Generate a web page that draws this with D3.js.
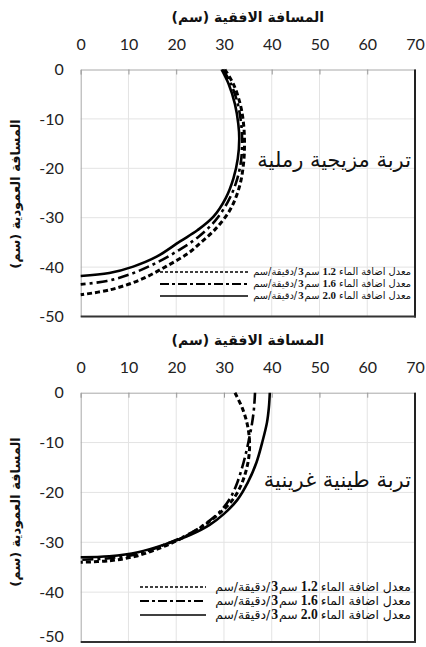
<!DOCTYPE html>
<html><head><meta charset="utf-8">
<script src="https://cdn.jsdelivr.net/npm/d3@7"></script>
<style>
body{margin:0;background:#fff;}
svg{display:block;}
</style></head>
<body>
<svg id="chart" width="426" height="647"></svg>
<script>
// ---- data ----
const xTicks = [0, 10, 20, 30, 40, 50, 60, 70];
const yTicks = [0, -10, -20, -30, -40, -50];
const rates = ["1.2", "1.6", "2.0"];
const xTitle = "المسافة الافقية (سم)";
const yTitle = "المسافة العمودية (سم)";
const soilNames = ["تربة مزيجية رملية", "تربة طينية غرينية"];
const legendWords = ["معدل اضافة الماء", "سم", "3", "/دقيقة/سم"];

// sandy loam (top panel): [horizontal cm, vertical cm]
const sandy12 = [[30.2,0],[32.0,-3],[33.4,-7],[34.1,-11],[34.3,-15],[34.1,-19],[33.3,-23.5],[31.4,-28.2],[28.5,-32],[25.2,-35],[22.5,-37.2],[18.0,-39.8],[12.4,-42.6],[6.1,-44.6],[0,-45.6]];
const sandy16 = [[29.8,0],[31.5,-3],[32.9,-7],[33.6,-11],[33.8,-15],[33.5,-19],[32.5,-23],[30.7,-27],[28.0,-30.8],[24.5,-34],[20.5,-36.6],[15.5,-39.3],[10.5,-41.4],[5.5,-42.8],[0,-43.5]];
const sandy20 = [[29.5,0],[31.0,-3],[32.3,-7],[33.0,-11],[33.2,-14],[32.9,-18],[32.0,-22],[30.4,-26],[27.8,-29.8],[24.5,-32.5],[20.8,-34.8],[15.9,-37.9],[11.0,-39.9],[6.0,-41.2],[0,-41.8]];

// silty clay (bottom panel)
const clay12 = [[32.3,0],[33.8,-3],[34.8,-6],[35.3,-9],[35.3,-12],[34.8,-15],[33.6,-18.5],[31.8,-21.5],[29.3,-24],[26.0,-26.5],[22.0,-28.8],[17.0,-31.0],[11.5,-32.8],[6.0,-33.7],[0,-34.0]];
const clay16 = [[36.5,0],[36.3,-3],[35.9,-6],[35.1,-10],[34.1,-14],[32.8,-18],[31.4,-21],[29.4,-23.6],[26.5,-26],[22.5,-28.4],[17.5,-30.5],[12.0,-32.3],[6.0,-33.2],[0,-33.5]];
const clay20 = [[39.6,0],[39.4,-3],[39.0,-6],[38.0,-10],[36.8,-14],[35.0,-18],[32.8,-21.5],[30.0,-24.3],[27.0,-26.5],[23.0,-28.5],[18.0,-30.3],[12.0,-32.0],[6.0,-32.8],[0,-33.0]];

const panelSeries = [[sandy12, sandy16, sandy20], [clay12, clay16, clay20]];

// ---- styles ----
const lineStyles = [
  {dash: "5,3", width: 3},
  {dash: "11,4,3,4", width: 2.6},
  {dash: null, width: 2.6}
];
const legendStyles = [
  {dash: "3,2", width: 1.6},
  {dash: "9,3,3,3", width: 1.8},
  {dash: null, width: 1.6}
];

const panels = [
  {top: 69.5, bottom: 316.5, titleY: 22, tickY: 50, labelY: 167, legendY: [272, 284, 296], legendWidth: 158, sampleX0: 160, sampleX1: 248, yTitleY: 194, lastLabelShift: 0},
  {top: 392.7, bottom: 642, titleY: 345, tickY: 373, labelY: 487, legendY: [587, 601, 615], legendWidth: 198, sampleX0: 140, sampleX1: 206, yTitleY: 512, lastLabelShift: -6}
];
const left = 80.7, right = 415, legendRight = 411;

const svg = d3.select("#chart");
const numFont = "Lato, 'Open Sans', sans-serif";
const arFont = "'DejaVu Sans', sans-serif";
const serifFont = "'Liberation Serif', serif";

function legendRow(g, r, ly, size) {
  const row = g.append("g");
  // pieces laid out right-to-left
  const pieces = [
    {t: legendWords[0], num: false, gap: 3},
    {t: r, num: true, gap: 3},
    {t: legendWords[1], num: false, gap: 1},
    {t: legendWords[2], num: true, gap: 1},
    {t: legendWords[3], num: false, gap: 0}
  ];
  let xr = legendRight;
  pieces.forEach(pc => {
    const t = row.append("text").attr("y", ly + size * 0.35).attr("fill", "#111");
    if (pc.num) {
      t.attr("x", xr).attr("text-anchor", "end")
        .attr("font-family", serifFont).attr("font-weight", "bold").attr("font-size", size * 1.1)
        .text(pc.t);
    } else {
      t.attr("x", xr).attr("text-anchor", "start").attr("direction", "rtl").attr("unicode-bidi", "embed")
        .attr("font-family", arFont).attr("font-size", size)
        .text(pc.t);
    }
    xr -= t.node().getComputedTextLength() + pc.gap;
  });
  return {row, width: legendRight - xr};
}

panels.forEach((p, pi) => {
  const x = d3.scaleLinear().domain([0, 70]).range([left, right]);
  const y = d3.scaleLinear().domain([-50, 0]).range([p.bottom, p.top]);
  const g = svg.append("g");

  // grid
  g.append("g").selectAll("line").data(xTicks.slice(1, -1)).join("line")
    .attr("x1", d => x(d)).attr("x2", d => x(d))
    .attr("y1", p.top).attr("y2", p.bottom)
    .attr("stroke", "#e3e3e3").attr("stroke-width", 1);
  g.append("g").selectAll("line").data(yTicks.slice(1, -1)).join("line")
    .attr("x1", left).attr("x2", right)
    .attr("y1", d => y(d)).attr("y2", d => y(d))
    .attr("stroke", "#e3e3e3").attr("stroke-width", 1);

  // top axis with inward ticks
  const xAxis = d3.axisTop(x).tickValues(xTicks).tickSize(-5).tickPadding(0).tickFormat(d3.format("d"));
  const xa = g.append("g").attr("transform", `translate(0,${p.top})`).call(xAxis);
  xa.select(".domain").attr("stroke", "#a8a8a8");
  xa.selectAll(".tick line").attr("stroke", "#999");
  xa.selectAll(".tick text").attr("y", p.tickY - p.top).attr("dy", 0)
    .attr("font-family", numFont).attr("font-size", 16).attr("fill", "#222");

  // left axis
  const yAxis = d3.axisLeft(y).tickValues(yTicks).tickSize(0).tickPadding(17).tickFormat(d3.format("d"));
  const ya = g.append("g").attr("transform", `translate(${left},0)`).call(yAxis);
  ya.select(".domain").attr("stroke", "#a8a8a8");
  ya.selectAll(".tick text").attr("font-family", numFont).attr("font-size", 16).attr("fill", "#222")
    .attr("y", d => d === -50 ? p.lastLabelShift : 0)
    .text(d => d === 0 ? "0" : "-" + Math.abs(d));

  // right and bottom dark border
  g.append("line").attr("x1", right).attr("x2", right).attr("y1", p.top).attr("y2", p.bottom + 1)
    .attr("stroke", "#222").attr("stroke-width", 2);
  g.append("line").attr("x1", left).attr("x2", right + 1).attr("y1", p.bottom).attr("y2", p.bottom)
    .attr("stroke", "#333").attr("stroke-width", 2);

  // titles
  g.append("text").attr("x", (left + right) / 2).attr("y", p.titleY)
    .attr("text-anchor", "middle").attr("font-family", arFont).attr("font-weight", "bold")
    .attr("font-size", 14).attr("fill", "#111").attr("direction", "rtl").attr("unicode-bidi", "embed")
    .text(xTitle);
  g.append("text").attr("transform", `translate(20,${p.yTitleY}) rotate(-90)`)
    .attr("text-anchor", "middle").attr("font-family", arFont).attr("font-weight", "bold")
    .attr("font-size", 13).attr("fill", "#111").attr("direction", "rtl").attr("unicode-bidi", "embed")
    .text(yTitle);

  // curves
  const line = d3.line().x(d => x(d[0])).y(d => y(d[1])).curve(d3.curveCatmullRom.alpha(0.5));
  panelSeries[pi].forEach((s, si) => {
    g.append("path").datum(s).attr("d", line)
      .attr("fill", "none").attr("stroke", "#000")
      .attr("stroke-width", lineStyles[si].width)
      .attr("stroke-dasharray", lineStyles[si].dash);
  });

  // soil label
  g.append("text").attr("x", 411).attr("y", p.labelY)
    .attr("text-anchor", "start").attr("direction", "rtl").attr("unicode-bidi", "embed")
    .attr("font-family", arFont).attr("font-size", 21).attr("fill", "#111")
    .text(soilNames[pi]);

  // legend
  rates.forEach((r, ri) => {
    const ly = p.legendY[ri];
    g.append("line").attr("x1", p.sampleX0).attr("x2", p.sampleX1)
      .attr("y1", ly).attr("y2", ly).attr("stroke", "#000")
      .attr("stroke-width", legendStyles[ri].width)
      .attr("stroke-dasharray", legendStyles[ri].dash);
    const base = 10;
    const first = legendRow(g, r, ly, base);
    const size = base * p.legendWidth / first.width;
    first.row.remove();
    legendRow(g, r, ly, size);
  });
});
</script>
</body></html>
